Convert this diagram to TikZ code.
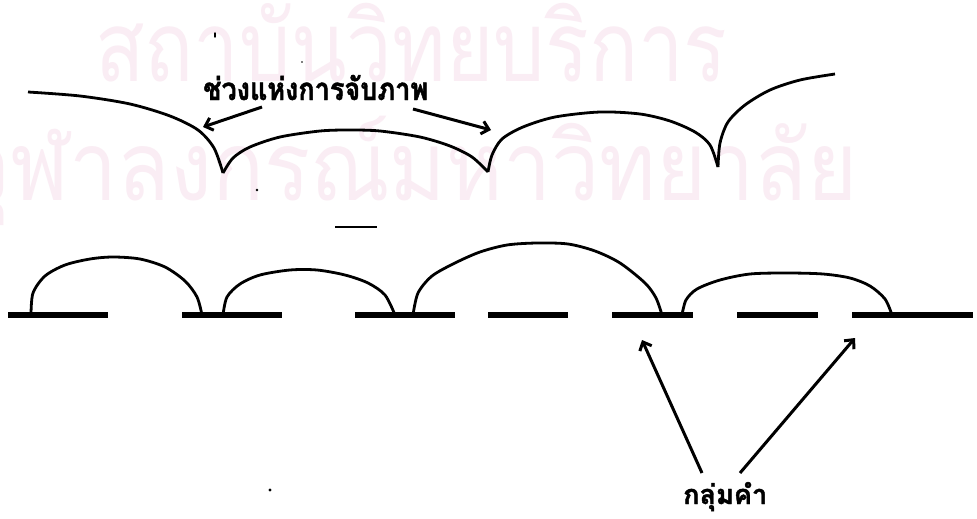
\documentclass[tikz,border=0pt]{standalone}
\usepackage{fontspec}
\usetikzlibrary{arrows.meta}
\newfontfamily\thaifont[Script=Thai]{Loma}
\newfontfamily\thaibold[Script=Thai,FakeBold=1.5]{Loma}
\definecolor{wm}{RGB}{250,237,244}
\begin{document}
\begin{tikzpicture}[x=1pt,y=-1pt,
  arcline/.style={line width=2.8pt, line join=round},
  barline/.style={line width=5.5pt},
  arr/.style={line width=3pt, -{Straight Barb[length=7pt,width=13pt]}},
  lbl/.style={anchor=base west, inner sep=0pt},
  wmtext/.style={anchor=base west, inner sep=0pt, text=wm}]
\useasboundingbox (0,0) rectangle (977,519);
\fill[white] (0,0) rectangle (977,519);
% watermark
\begin{scope}
\clip (0,0) rectangle (977,519);
\node[wmtext] (wm1) at (95,81) {\scalebox{1}[1.2]{\resizebox{632pt}{!}{\thaifont สถาบันวิทยบริการ}}};
\node[wmtext] (wm2) at (-40,200) {\scalebox{1}[1.12]{\resizebox{897pt}{!}{\thaifont จุฬาลงกรณ์มหาวิทยาลัย}}};
\end{scope}
% top arcs
\draw[arcline] plot[smooth] coordinates {(28,92) (80,96) (130,104) (170,116) (198,130) (214,148) (223,173)};
\draw[arcline] plot[smooth] coordinates {(223,173) (233,158) (250,147) (280,137) (320,131) (350,130) (380,131) (420,137) (450,146) (472,157) (488,172)};
\draw[arcline] plot[smooth] coordinates {(488,172) (492,155) (502,139) (523,127) (555,117) (600,112) (640,114) (670,121) (695,132) (710,145) (718,167)};
\draw[arcline] plot[smooth] coordinates {(718,167) (720,143) (728,122) (745,105) (770,90) (800,80) (835,74)};
% top label and arrows
\node[lbl] (lab1) at (203,100) {\scalebox{1}[1.15]{\resizebox{225pt}{!}{\thaibold\bfseries ช่วงแห่งการจับภาพ}}};
\coordinate (a1s) at (262,107);
\coordinate (a1e) at (203,127);
\coordinate (a2s) at (413,109);
\coordinate (a2e) at (491,130);
\draw[arr] (a1s) -- (a1e);
\draw[arr] (a2s) -- (a2e);
% stray dash
\draw[line width=2.5pt] (335,227) -- (377,227);
% bottom bars
\foreach \a/\b in {8/108,182/282,355/455,488/568,612/693,737/818,852/973}
  \draw[barline] (\a,315) -- (\b,315);
% bottom arcs
\draw[arcline] plot[smooth] coordinates {(31,315) (33,293) (45,276) (65,265) (90,259) (113,257) (140,259) (165,267) (185,281) (197,297) (202,315)};
\draw[arcline] plot[smooth] coordinates {(223,315) (227,297) (240,284) (260,275) (290,270) (317,270) (345,275) (368,283) (385,295) (395,315)};
\draw[arcline] plot[smooth] coordinates {(413,315) (418,293) (432,276) (455,263) (480,252) (507,245) (537,243) (568,244) (595,251) (620,263) (645,283) (656,298) (662,315)};
\draw[arcline] plot[smooth] coordinates {(682,315) (686,300) (697,289) (720,280) (750,274) (787,273) (823,274) (850,278) (870,286) (885,299) (892,315)};
% bottom label and arrows
\node[lbl] (lab2) at (683,504) {\resizebox{84pt}{!}{\thaibold\bfseries กลุ่มคำ}};
\coordinate (b1s) at (702,473);
\coordinate (b1e) at (642,340);
\coordinate (b2s) at (740,473);
\coordinate (b2e) at (855,338);
\draw[arr] (b1s) -- (b1e);
\draw[arr] (b2s) -- (b2e);
% specks
\fill (215,35) ellipse (1pt and 3pt);
\fill (257,190) circle (1.3pt);
\fill (302,62) circle (0.8pt);
\fill (270,490) circle (1.6pt);
\end{tikzpicture}
\end{document}
